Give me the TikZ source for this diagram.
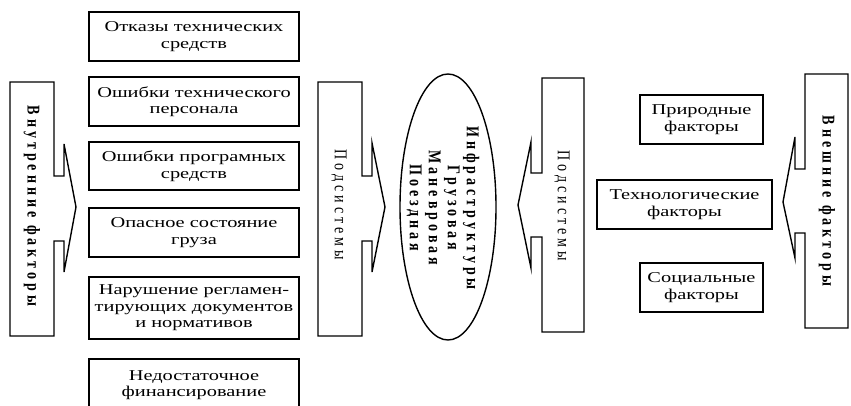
\documentclass[tikz,border=0pt]{standalone}
\usepackage{fontspec}
\setmainfont{Liberation Serif}
\newfontfamily\hfont[FakeStretch=1.36]{Liberation Serif}
\newfontfamily\vfont[FakeStretch=0.78,LetterSpace=22]{Liberation Serif}
\usetikzlibrary{shapes.geometric}
\begin{document}
\begin{tikzpicture}[x=1pt,y=-1pt,
  box/.style={draw,line width=1.4pt,align=center,inner sep=0pt,
    font=\hfont\fontsize{15}{16.5}\selectfont},
  arrowshape/.style={draw,line width=1.4pt,line join=miter},
  vtext/.style={rotate=-90,inner sep=0pt,font=\vfont\fontsize{18}{19}\selectfont},
  vbold/.style={vtext,font=\vfont\bfseries\fontsize{18}{19}\selectfont,align=center}]
\useasboundingbox (0,0) rectangle (851,406);
% left column
\node[box,minimum width=210pt,minimum height=49pt] (b1) at (194,36.5) {Отказы технических\\средств};
\node[box,minimum width=210pt,minimum height=49pt] (b2) at (194,101.5) {Ошибки технического\\персонала};
\node[box,minimum width=210pt,minimum height=48pt] (b3) at (194,166) {Ошибки програмных\\средств};
\node[box,minimum width=210pt,minimum height=49pt] (b4) at (194,232.5) {Опасное состояние\\груза};
\node[box,minimum width=210pt,minimum height=62pt] (b5) at (194,308) {Нарушение регламен-\\тирующих документов\\и нормативов};
\node[box,minimum width=210pt,minimum height=52pt] (b6) at (194,385) {Недостаточное\\финансирование};
% right column
\node[box,minimum width=123pt,minimum height=49pt] (r1) at (701.5,119.5) {Природные\\факторы};
\node[box,minimum width=175pt,minimum height=49pt] (r2) at (684.5,204.5) {Технологические\\факторы};
\node[box,minimum width=123pt,minimum height=49pt] (r3) at (701.5,287.5) {Социальные\\факторы};
% left internal factors arrow
\draw[arrowshape] (10,82) -- (54,82) -- (54,176) -- (64,176) -- (64,144) -- (76,207) -- (64,272) -- (64,241) -- (54,241) -- (54,336) -- (10,336) -- cycle;
\node[vbold] (vf) at (32,206) {Внутренние факторы};
% left subsystems arrow
\draw[arrowshape] (318,82) -- (362,82) -- (362,176) -- (372,176) -- (372,143) -- (385,207) -- (372,272) -- (372,241) -- (362,241) -- (362,336) -- (318,336) -- cycle;
\node[vtext] (ps1) at (339,205) {Подсистемы};
% ellipse
\node[draw,ellipse,line width=1.4pt,minimum width=96pt,minimum height=266pt,inner sep=0pt] (el) at (448,207) {};
\node[vbold] (elt) at (443,208) {Инфраструктуры\\Грузовая\\Маневровая\\Поездная};
% right subsystems arrow
\draw[arrowshape] (584,78) -- (542,78) -- (542,173) -- (531,173) -- (531,142) -- (518,205) -- (531,268) -- (531,237) -- (542,237) -- (542,332) -- (584,332) -- cycle;
\node[vtext] (ps2) at (562,206) {Подсистемы};
% right external factors arrow
\draw[arrowshape] (848,74) -- (805,74) -- (805,169) -- (795,169) -- (795,137) -- (783,202) -- (795,258) -- (795,233) -- (805,233) -- (805,328) -- (848,328) -- cycle;
\node[vbold] (ef) at (827,201) {Внешние факторы};
\end{tikzpicture}
\end{document}
